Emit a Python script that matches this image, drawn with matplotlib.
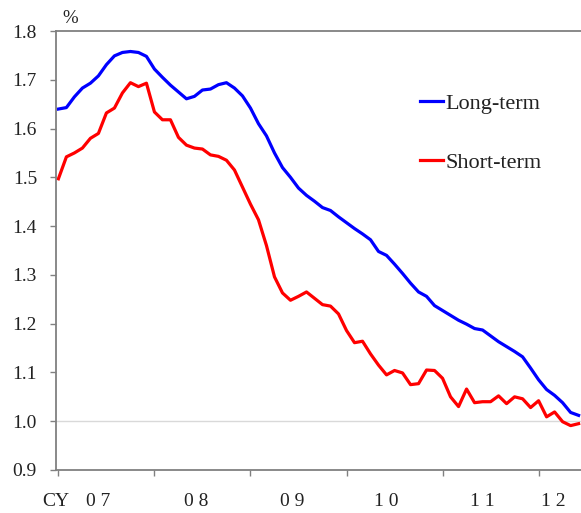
import matplotlib
matplotlib.use("Agg")
import matplotlib.pyplot as plt
import numpy as np

plt.rcParams['font.family'] = ['Liberation Serif', 'DejaVu Serif']

# monthly values, Jan 2007 .. Jun 2012
long_term = [1.640, 1.643, 1.665, 1.683, 1.693, 1.708, 1.731, 1.749, 1.756, 1.758,
             1.756, 1.748, 1.722, 1.705, 1.689, 1.675, 1.661, 1.666, 1.679, 1.681,
             1.690, 1.694, 1.683, 1.667, 1.642, 1.610, 1.585, 1.550, 1.520, 1.500,
             1.478, 1.463, 1.451, 1.438, 1.432, 1.419, 1.407, 1.395, 1.384, 1.372,
             1.348, 1.340, 1.322, 1.303, 1.283, 1.265, 1.256, 1.237, 1.227, 1.217,
             1.207, 1.199, 1.190, 1.187, 1.175, 1.163, 1.153, 1.143, 1.132, 1.109,
             1.085, 1.065, 1.053, 1.038, 1.018, 1.012]
short_term = [1.497, 1.542, 1.550, 1.560, 1.580, 1.590, 1.632, 1.642, 1.673, 1.694,
              1.686, 1.693, 1.634, 1.618, 1.618, 1.582, 1.566, 1.560, 1.558, 1.546,
              1.543, 1.535, 1.515, 1.480, 1.445, 1.413, 1.360, 1.296, 1.263, 1.248,
              1.256, 1.265, 1.252, 1.239, 1.236, 1.220, 1.186, 1.161, 1.164, 1.138,
              1.115, 1.095, 1.104, 1.099, 1.075, 1.077, 1.105, 1.104, 1.088, 1.050,
              1.030, 1.066, 1.038, 1.040, 1.040, 1.052, 1.036, 1.050, 1.046, 1.028,
              1.042, 1.009, 1.019, 0.999, 0.991, 0.995]
year_labels = ['CY', '0 7', '0 8', '0 9', '1 0', '1 1', '1 2']
year_label_pos = [-0.3, 5, 17.2, 29.2, 41, 53, 61.8]

months = np.arange(len(long_term))

W, H = 581, 513
fig = plt.figure(figsize=(W / 100, H / 100), dpi=100)
ax = fig.add_axes([56 / W, 1 - 470 / H, 1 - 56 / W, (470 - 31) / H])

ax.plot(months, long_term, color='#0000ff', lw=2.3, label='Long-term')
ax.plot(months, short_term, color='#ff0000', lw=2.3, label='Short-term')
ax.axhline(1.0, color='#d9d9d9', lw=1, zorder=0)

ax.set_xlim(0, 65.3)
ax.set_ylim(0.9, 1.8)
ax.set_yticks(np.arange(0.9, 1.81, 0.1))
ax.set_yticklabels(['%.1f' % v for v in np.arange(0.9, 1.81, 0.1)])
ax.set_xticks(np.arange(0, 61, 12))
ax.set_xticklabels([])
ax.set_xticks(year_label_pos, minor=True)
ax.set_xticklabels(year_labels, minor=True)

for s in ['left', 'bottom', 'top']:
    ax.spines[s].set_color('#808080')
    ax.spines[s].set_linewidth(1.3)
ax.spines['right'].set_visible(False)

ax.tick_params(axis='y', length=4.3, width=1, color='#808080', pad=9.4,
               labelsize=14, labelcolor='#222222')
ax.tick_params(axis='x', which='major', length=4.3, width=1, color='#808080')
ax.tick_params(axis='x', which='minor', length=0, pad=16.5,
               labelsize=14, labelcolor='#222222')

fig.text(62 / W, 1 - 19 / H, '%', fontsize=13.5, color='#222222', va='center')

ax.legend(loc='upper left', bbox_to_anchor=(420 / W, 1 - 93 / H),
          bbox_transform=fig.transFigure, frameon=False, borderpad=0,
          borderaxespad=0, handlelength=1.05, handletextpad=0.1,
          labelspacing=1.75, fontsize=16, labelcolor='#222222')

fig.savefig('out.png', dpi=100)
